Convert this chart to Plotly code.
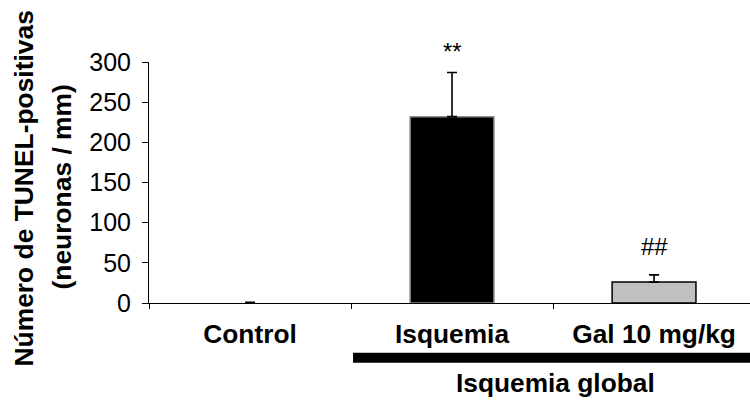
import plotly.graph_objects as go

categories = ["Control", "Isquemia", "Gal 10 mg/kg"]
values = [0, 232, 26]
errors = [1, 55, 9]
bar_colors = ["#FFFFFF", "#000000", "#C0C0C0"]
bar_edges = ["#808080", "#8C8C8C", "#000000"]
bar_edge_widths = [0, 1.5, 1.5]
sig_labels = ["", "**", "##"]
sig_y = [None, 313, 70]
y_ticks = [0, 50, 100, 150, 200, 250, 300]
y_range = [0, 300]
group_label = "Isquemia global"
y_title_1 = "Número de TUNEL-positivas"
y_title_2 = "(neuronas / mm)"

W, H = 750, 400
L, R, T, B = 149, 0, 62, 97
pw = W - L - R
ph = H - T - B


def px2x(px):
    return (px - L) / pw


def py2y(py):
    return (H - B - py) / ph


FONT = "Liberation Sans, Arial, sans-serif"

fig = go.Figure()
fig.add_trace(go.Bar(
    x=categories, y=values, width=0.415,
    marker=dict(color=bar_colors, line=dict(color=bar_edges, width=bar_edge_widths)),
    error_y=dict(type="data", array=errors, arrayminus=[0, 0, 0], symmetric=False,
                 color="black", thickness=1.6, width=5),
    showlegend=False,
))

for c, s, yv in zip(categories, sig_labels, sig_y):
    if s:
        fig.add_annotation(x=c, y=(yv - y_range[0]) / (y_range[1] - y_range[0]),
                           xref="x", yref="paper", text=s, showarrow=False,
                           font=dict(family=FONT, size=24, color="black"),
                           xanchor="center", yanchor="middle")

# group bar under categories
fig.add_shape(type="rect", xref="x", yref="paper", x0=0.51, x1=2.6,
              y0=py2y(362.7), y1=py2y(352.7), fillcolor="black", line=dict(width=0),
              layer="above")
fig.add_annotation(xref="paper", yref="paper", x=px2x(555), y=py2y(383),
                   text="<b>%s</b>" % group_label, showarrow=False,
                   font=dict(family=FONT, size=26.3, color="black"),
                   xanchor="center", yanchor="middle")

# y-axis title (two lines)
fig.add_annotation(xref="paper", yref="paper", x=px2x(23), y=py2y(188.5),
                   text="<b>%s</b>" % y_title_1, textangle=-90, showarrow=False,
                   font=dict(family=FONT, size=26.4, color="black"),
                   xanchor="center", yanchor="middle")
fig.add_annotation(xref="paper", yref="paper", x=px2x(61), y=py2y(187.5),
                   text="<b>%s</b>" % y_title_2, textangle=-90, showarrow=False,
                   font=dict(family=FONT, size=26.4, color="black"),
                   xanchor="center", yanchor="middle")

fig.update_layout(
    width=W, height=H,
    margin=dict(l=L, r=R, t=T, b=B, pad=0),
    plot_bgcolor="white", paper_bgcolor="white",
    font=dict(family=FONT, color="black"),
    xaxis=dict(
        type="category", range=[-0.5, 2.475], showgrid=False,
        showline=True, linecolor="black", linewidth=1,
        ticks="outside", ticklen=5, tickcolor="black", tickwidth=1,
        tickson="boundaries",
        tickfont=dict(family=FONT, size=26.3, color="black", weight="bold"),
        ticklabelstandoff=7,
        zeroline=False,
    ),
    yaxis=dict(
        range=y_range, tickvals=y_ticks, showgrid=False,
        showline=True, linecolor="black", linewidth=1,
        ticks="outside", ticklen=6, tickcolor="black", tickwidth=1,
        tickfont=dict(family=FONT, size=25, color="black"),
        ticklabelstandoff=6,
        zeroline=False,
    ),
)

fig.write_html("out.html", config={"displayModeBar": False},
               post_script="document.body.style.margin='0px';")
